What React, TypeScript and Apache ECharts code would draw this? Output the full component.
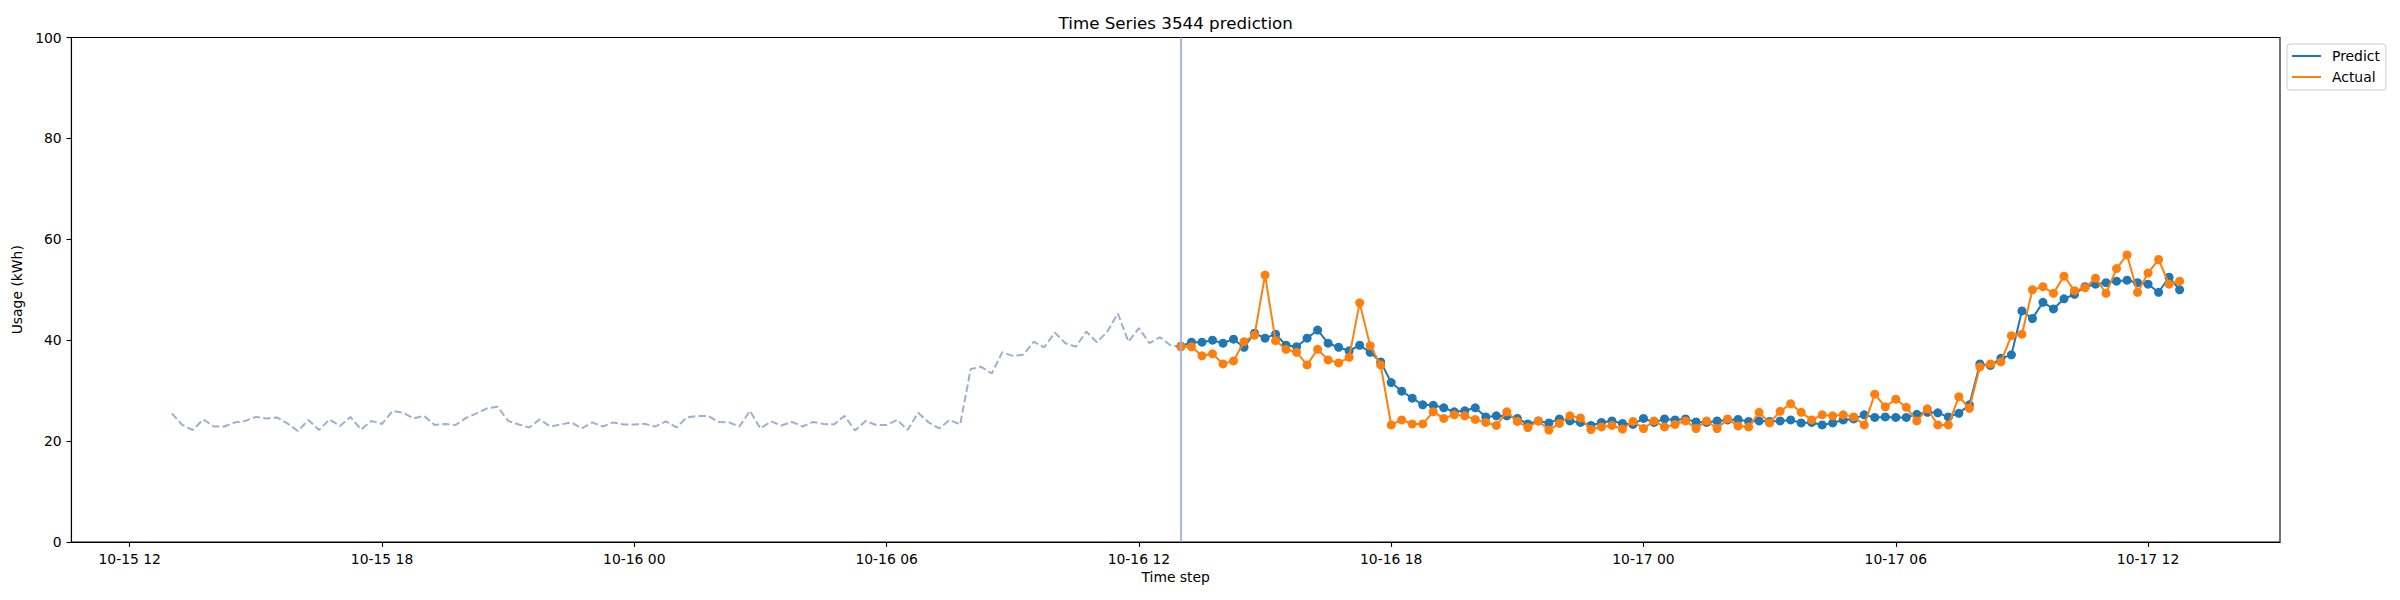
import React, { useEffect, useRef } from "react";
import * as echarts from "echarts";

// ---- data (15-minute steps) ----
// hours are counted from 10-15 00:00
const historyStartHour = 13; // 10-15 13:00
const predictStartHour = 37; // 10-16 13:00
const stepHours = 0.25;

const historyValues = [
  25.5, 23.2, 22.2, 24.3, 22.9, 22.9, 23.7, 24.0, 24.8, 24.5, 24.7, 23.5, 22.0, 24.2, 22.2, 24.3,
  23.0, 24.8, 22.3, 24.0, 23.4, 26.0, 25.6, 24.5, 25.0, 23.2, 23.4, 23.2, 24.6, 25.5, 26.5, 26.8,
  24.0, 23.3, 22.7, 24.3, 22.9, 23.3, 23.7, 22.5, 23.7, 22.9, 23.7, 23.3, 23.3, 23.4, 22.9, 23.9,
  22.7, 24.7, 25.0, 25.0, 23.8, 23.7, 22.9, 26.0, 22.5, 23.9, 23.1, 23.8, 22.9, 23.8, 23.4, 23.3,
  25.0, 22.1, 24.0, 23.2, 23.2, 24.2, 22.2, 25.6, 23.7, 22.5, 24.2, 23.3, 34.3, 34.7, 33.4, 37.6,
  36.9, 37.1, 39.7, 38.6, 41.5, 39.4, 38.7, 41.7, 39.6, 41.7, 45.3, 39.7, 42.4, 39.4, 40.6, 39.0,
  38.7,
];

const predictValues = [
  38.8, 39.6, 39.6, 40.0, 39.4, 40.2, 38.6, 41.4, 40.4, 41.2, 39.0, 38.7, 40.4, 42.0, 39.4, 38.6,
  37.9, 39.0, 37.6, 35.7, 31.6, 29.9, 28.5, 27.2, 27.1, 26.6, 25.8, 26.0, 26.6, 24.8, 25.0, 25.0,
  24.5, 23.4, 24.0, 23.6, 24.4, 24.0, 23.7, 23.1, 23.7, 24.0, 23.5, 23.3, 24.5, 23.7, 24.4, 24.2,
  24.4, 23.8, 23.7, 24.0, 24.2, 24.3, 23.9, 24.0, 23.9, 24.0, 24.2, 23.6, 23.7, 23.2, 23.6, 24.2,
  24.4, 25.2, 24.7, 24.8, 24.7, 24.7, 25.3, 25.7, 25.6, 24.8, 25.5, 27.2, 35.3, 35.0, 36.4, 37.1,
  45.8, 44.3, 47.5, 46.2, 48.2, 49.1, 50.6, 51.1, 51.4, 51.7, 51.9, 51.4, 51.1, 49.5, 52.5, 50.0,
];

const actualValues = [
  38.7, 38.7, 36.9, 37.3, 35.3, 35.9, 39.7, 41.0, 52.9, 39.9, 38.2, 37.6, 35.1, 38.2, 36.1, 35.5,
  36.6, 47.4, 38.9, 35.1, 23.2, 24.2, 23.4, 23.4, 25.8, 24.5, 25.2, 25.0, 24.3, 23.7, 23.1, 25.8,
  23.9, 22.7, 24.0, 22.2, 23.5, 25.0, 24.6, 22.3, 22.8, 23.1, 22.4, 23.9, 22.5, 24.0, 22.8, 23.3,
  24.0, 22.5, 24.0, 22.5, 24.4, 23.0, 22.8, 25.7, 23.6, 25.9, 27.4, 25.7, 24.2, 25.2, 25.0, 25.2,
  24.8, 23.2, 29.3, 26.8, 28.3, 26.7, 24.0, 26.4, 23.2, 23.2, 28.8, 26.5, 34.7, 35.3, 35.7, 40.9,
  41.2, 50.0, 50.6, 49.3, 52.7, 49.8, 50.4, 52.3, 49.3, 54.2, 56.9, 49.5, 53.3, 56.0, 51.1, 51.7,
];

const xTickHours = [12, 18, 24, 30, 36, 42, 48, 54, 60];
const xTickLabels = [
  "10-15 12", "10-15 18", "10-16 00", "10-16 06", "10-16 12",
  "10-16 18", "10-17 00", "10-17 06", "10-17 12",
];
const yTicks = [0, 20, 40, 60, 80, 100];

const titleText = "Time Series 3544 prediction";
const xName = "Time step";
const yName = "Usage (kWh)";
const seriesNames = ["Predict", "Actual"];

const FONT = "DejaVu Sans";

export default function App() {
  const ref = useRef<HTMLDivElement>(null);

  useEffect(() => {
    document.body.style.margin = "0";
    if (!ref.current) return;
    const chart = echarts.init(ref.current, null, { renderer: "svg" });

    const hist = historyValues.map((v, i) => [historyStartHour + i * stepHours, v]);
    const pred = predictValues.map((v, i) => [predictStartHour + i * stepHours, v]);
    const act = actualValues.map((v, i) => [predictStartHour + i * stepHours, v]);

    const first = historyStartHour;
    const last = predictStartHour + (predictValues.length - 1) * stepHours;
    const margin = (last - first) * 0.05;

    const labelMap: Record<string, string> = {};
    xTickHours.forEach((h, i) => (labelMap[String(h)] = xTickLabels[i]));

    chart.setOption({
      animation: false,
      backgroundColor: "#ffffff",
      title: {
        text: titleText,
        left: 1175.7,
        top: 14,
        padding: 0,
        textAlign: "center",
        textStyle: { fontFamily: FONT, fontSize: 16.7, fontWeight: "normal", color: "#000" },
      },
      legend: {
        data: seriesNames,
        orient: "vertical",
        left: 2287,
        top: 44,
        padding: [4, 6, 5, 5],
        itemGap: 5,
        itemWidth: 29,
        itemHeight: 2,
        icon: "rect",
        borderColor: "#cccccc",
        borderWidth: 1,
        borderRadius: 3,
        backgroundColor: "#ffffff",
        textStyle: {
          fontFamily: FONT,
          fontSize: 13.9,
          color: "#000",
          padding: [0, 0, 0, 6],
          lineHeight: 16,
        },
      },
      grid: {
        left: 71.4,
        right: 120,
        top: 37.5,
        bottom: 58,
        show: true,
        borderColor: "#000",
        borderWidth: 1.1,
        backgroundColor: "transparent",
      },
      xAxis: {
        type: "value",
        min: first - margin,
        max: last + margin,
        name: xName,
        nameLocation: "middle",
        nameGap: 27,
        nameTextStyle: { fontFamily: FONT, fontSize: 13.9, color: "#000" },
        axisLine: { show: true, lineStyle: { color: "#000", width: 1.1 } },
        axisTick: { show: true, length: 4.9, lineStyle: { color: "#000", width: 1.1 }, customValues: xTickHours },
        axisLabel: {
          customValues: xTickHours,
          margin: 9.5,
          fontFamily: FONT,
          fontSize: 13.9,
          color: "#000",
          formatter: (v: number) => labelMap[String(v)] ?? "",
        },
        splitLine: { show: false },
      },
      yAxis: {
        type: "value",
        min: 0,
        max: 100,
        interval: 20,
        name: yName,
        nameLocation: "middle",
        nameGap: 43,
        nameTextStyle: { fontFamily: FONT, fontSize: 13.9, color: "#000" },
        axisLine: { show: true, lineStyle: { color: "#000", width: 1.1 } },
        axisTick: { show: true, length: 4.9, lineStyle: { color: "#000", width: 1.1 }, customValues: yTicks },
        axisLabel: { customValues: yTicks, margin: 9.7, fontFamily: FONT, fontSize: 13.9, color: "#000" },
        splitLine: { show: false },
      },
      series: [
        {
          name: "History",
          type: "line",
          data: hist,
          symbol: "none",
          showSymbol: false,
          lineStyle: { color: "#9eb1cc", width: 2, type: [7.4, 3.2] },
          itemStyle: { color: "#9eb1cc" },
          markLine: {
            silent: true,
            symbol: ["none", "none"],
            label: { show: false },
            lineStyle: { color: "#a3b1d6", width: 1.8, type: "solid" },
            data: [{ xAxis: predictStartHour }],
          },
          z: 1,
        },
        {
          name: seriesNames[0],
          type: "line",
          data: pred,
          symbol: "circle",
          symbolSize: 9,
          lineStyle: { color: "#1f77b4", width: 2 },
          itemStyle: { color: "#1f77b4" },
          z: 2,
        },
        {
          name: seriesNames[1],
          type: "line",
          data: act,
          symbol: "circle",
          symbolSize: 9,
          lineStyle: { color: "#ff7f0e", width: 2 },
          itemStyle: { color: "#ff7f0e" },
          z: 3,
        },
      ],
    });

    return () => chart.dispose();
  }, []);

  return <div ref={ref} style={{ width: 2400, height: 600 }} />;
}
